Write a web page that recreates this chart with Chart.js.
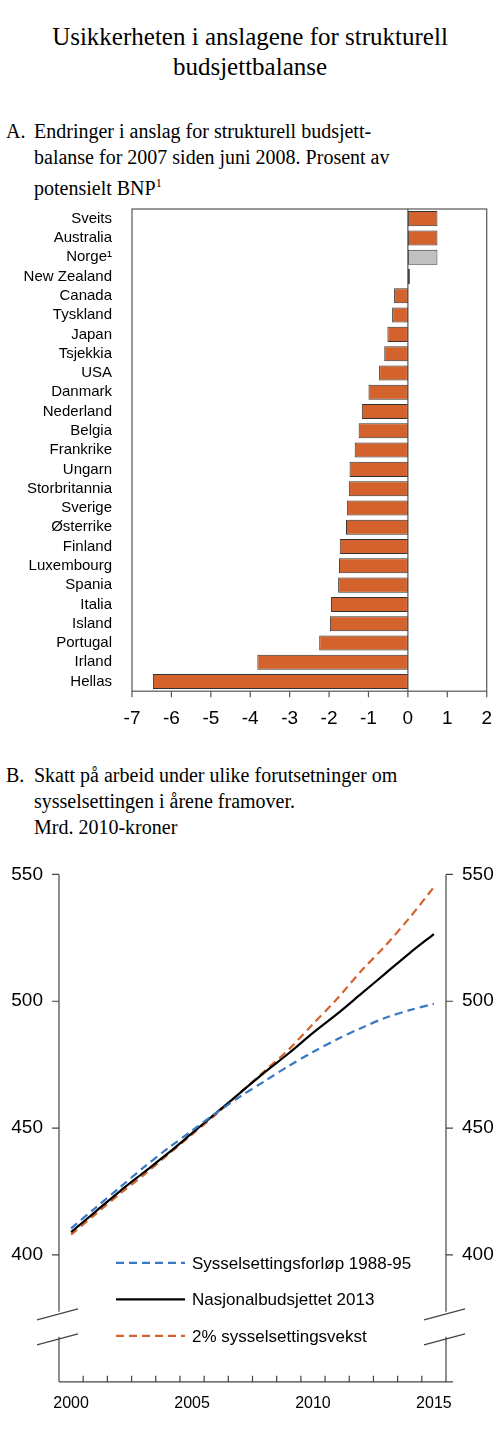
<!DOCTYPE html>
<html><head><meta charset="utf-8">
<script src="https://cdn.jsdelivr.net/npm/chart.js@4.4.0/dist/chart.umd.min.js"></script>
<style>
body{margin:0;width:500px;height:1429px;background:#fff;position:relative;font-family:"Liberation Serif","Times New Roman",serif;color:#000}
.t{position:absolute;left:0;width:500px;text-align:center;font-size:25px;line-height:30px;top:22px}
.s{position:absolute;left:34px;width:460px;font-size:20px;line-height:26px}
.s b{position:absolute;left:-28px;font-weight:normal}
canvas{position:absolute;left:0}
</style></head><body>
<div class="t">Usikkerheten i anslagene for strukturell<br>budsjettbalanse</div>
<div class="s" style="top:118px"><b>A.</b>Endringer i anslag for strukturell budsjett-<br>balanse for 2007 siden juni 2008. Prosent av<br>potensielt BNP<sup style="font-size:12px">1</sup></div>
<div class="s" style="top:762px"><b>B.</b>Skatt på arbeid under ulike forutsetninger om<br>sysselsettingen i årene framover.<br>Mrd. 2010-kroner</div>
<div style="position:absolute;top:188px;left:0;width:500px;height:550px"><canvas id="c1"></canvas></div>
<div style="position:absolute;top:855px;left:0;width:500px;height:574px"><canvas id="c2"></canvas></div>
<script>
const countries=["Sveits","Australia","Norge¹","New Zealand","Canada","Tyskland","Japan","Tsjekkia","USA","Danmark","Nederland","Belgia","Frankrike","Ungarn","Storbritannia","Sverige","Østerrike","Finland","Luxembourg","Spania","Italia","Island","Portugal","Irland","Hellas"];
const changes=[0.75,0.75,0.75,0.05,-0.35,-0.4,-0.52,-0.6,-0.73,-1.0,-1.17,-1.25,-1.35,-1.48,-1.5,-1.55,-1.57,-1.73,-1.75,-1.77,-1.95,-1.98,-2.25,-3.82,-6.47];
const years=["2000","2001","2002","2003","2004","2005","2006","2007","2008","2009","2010","2011","2012","2013","2014","2015"];
const emp8895=[410.5,418.5,426.5,434.5,442,449,456,462.5,468.5,474.5,480,485,489.5,493.5,496.5,499];
const nb2013=[409,417,425,432.5,440,448,456,464,472,479.5,487.5,495,503,511,519,526.5];
const emp2pct=[408,416,424,431.5,439.5,447.5,455.5,464,472.5,481,491,501,512,522,533,545];
const ORANGE="#d4622d", BLUE="#3a78c3";
Chart.defaults.font.family='"Liberation Sans",Arial,sans-serif';
Chart.defaults.color="#000";

const box={id:"box",afterDraw(c){const a=c.chartArea,x=c.ctx,s=c.scales.x;x.save();x.strokeStyle="#555";x.lineWidth=1.2;
x.strokeRect(a.left,a.top,a.right-a.left,a.bottom-a.top);
x.beginPath();for(let v=-7;v<=2;v++){const p=s.getPixelForValue(v);x.moveTo(p,a.bottom);x.lineTo(p,a.bottom+6);}
const z=s.getPixelForValue(0);x.moveTo(z,a.top);x.lineTo(z,a.bottom);x.stroke();x.restore();}};
new Chart(document.getElementById("c1"),{type:"bar",
data:{labels:countries,datasets:[{data:changes,backgroundColor:countries.map((c,i)=>i===2?"#c0c0c0":ORANGE),borderColor:"#333",borderWidth:1,borderSkipped:false,barPercentage:0.78,categoryPercentage:1}]},
options:{indexAxis:"y",responsive:true,maintainAspectRatio:false,animation:false,
layout:{padding:{left:0,right:13,top:9,bottom:0}},
plugins:{legend:{display:false},tooltip:{enabled:false}},
scales:{x:{min:-7,max:2,ticks:{stepSize:1,font:{size:19},padding:8},grid:{display:false},border:{display:false}},
y:{afterFit(s){s.width=132;},ticks:{autoSkip:false,font:{size:15},padding:12},grid:{display:false},border:{display:false}}}},
plugins:[box]});

const axes2={id:"ax2",afterDraw(c){const a=c.chartArea,x=c.ctx,y=c.scales.y;x.save();x.strokeStyle="#444";x.lineWidth=1.2;x.beginPath();
const brk1=a.bottom-70,brk2=a.bottom-45;
[a.left,a.right].forEach((px,i)=>{x.moveTo(px,a.top);x.lineTo(px,brk1);x.moveTo(px,brk2);x.lineTo(px,a.bottom);
[400,450,500,550].forEach(v=>{const p=y.getPixelForValue(v);x.moveTo(px,p);x.lineTo(i?px+7:px-7,p);});
x.moveTo(px-22,brk1+8);x.lineTo(px+19,brk1-3);x.moveTo(px-22,brk2+8);x.lineTo(px+19,brk2-3);});
x.moveTo(a.left,a.bottom);x.lineTo(a.right+7,a.bottom);
const w=(a.right-a.left)/years.length;for(let i=1;i<years.length;i++){const p=a.left+i*w;x.moveTo(p,a.bottom);x.lineTo(p,a.bottom-6);}
x.stroke();
const ds=c.data.datasets;x.font='17px "Liberation Sans",Arial,sans-serif';x.textBaseline="middle";x.fillStyle="#000";
ds.forEach((d,i)=>{const yy=y.getPixelForValue(400)+8+i*36.5;x.beginPath();x.strokeStyle=d.borderColor;x.lineWidth=d.borderWidth;x.setLineDash(d.borderDash||[]);x.moveTo(a.left+57,yy);x.lineTo(a.left+126,yy);x.stroke();x.setLineDash([]);x.fillText(d.label,a.left+133,yy+1);});
x.restore();}};
new Chart(document.getElementById("c2"),{type:"line",
data:{labels:years,datasets:[
{label:"Sysselsettingsforløp 1988-95",data:emp8895,borderColor:BLUE,borderWidth:2.2,borderDash:[8,5],pointRadius:0,tension:0.3},
{label:"Nasjonalbudsjettet 2013",data:nb2013,borderColor:"#000",borderWidth:2.2,pointRadius:0,tension:0.3},
{label:"2% sysselsettingsvekst",data:emp2pct,borderColor:ORANGE,borderWidth:2.2,borderDash:[8,5],pointRadius:0,tension:0.3}]},
options:{responsive:true,maintainAspectRatio:false,animation:false,
layout:{padding:{top:15,bottom:12,left:0,right:0}},
plugins:{legend:{display:false},tooltip:{enabled:false}},
scales:{x:{offset:true,grid:{display:false},border:{display:false},ticks:{autoSkip:false,maxRotation:0,font:{size:16},padding:4,callback(v,i){return i%5===0?years[i]:"";}}},
y:{min:350,max:550,afterFit(s){s.width=59;},ticks:{stepSize:50,font:{size:19},padding:8,callback:v=>v===350?"":v},grid:{display:false},border:{display:false}},
y2:{position:"right",min:350,max:550,afterFit(s){s.width=54;},ticks:{stepSize:50,font:{size:19},padding:8,callback:v=>v===350?"":v},grid:{display:false},border:{display:false}}}},
plugins:[axes2]});
</script></body></html>
